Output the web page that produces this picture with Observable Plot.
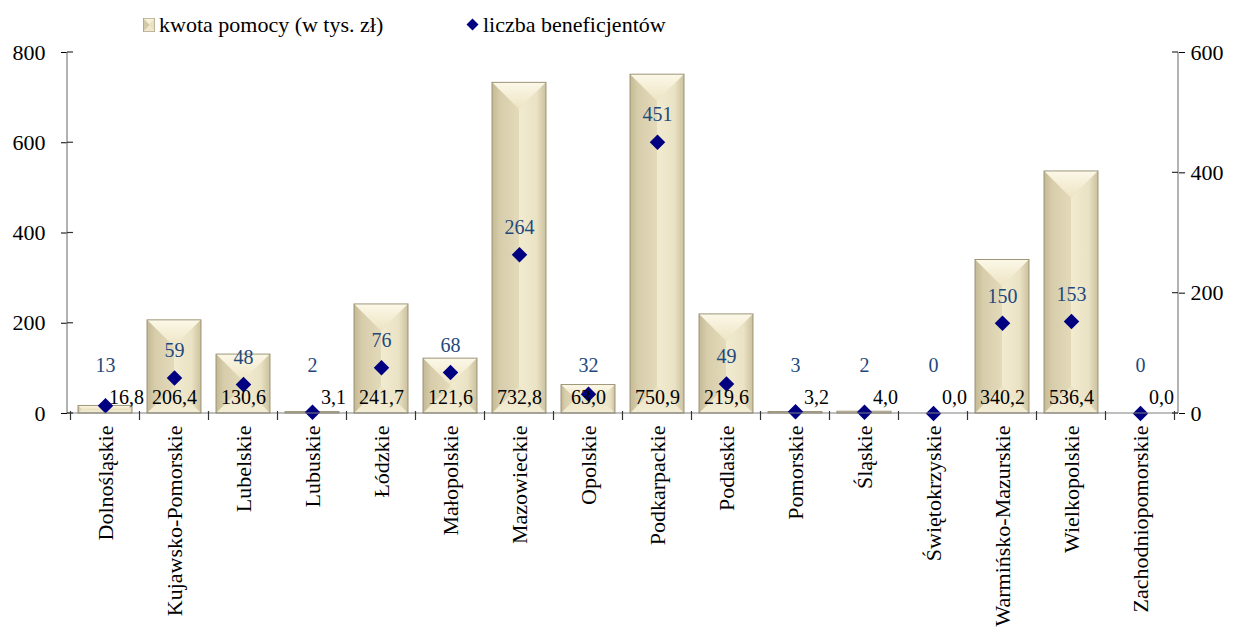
<!DOCTYPE html>
<html>
<head>
<meta charset="utf-8">
<script src="https://cdn.jsdelivr.net/npm/d3@7"></script>
<script src="https://cdn.jsdelivr.net/npm/@observablehq/plot@0.6"></script>
<style>
  html, body { margin: 0; padding: 0; background: #fff; }
  #legend { position: relative; height: 40px; width: 1239px; font-family: "Liberation Serif", serif; font-size: 22px; color: #000; }
  #legend .t { position: absolute; top: 14px; line-height: 22px; white-space: nowrap; }
  #legend svg { position: absolute; }
</style>
</head>
<body>
<div id="legend">
  <svg style="left:143px;top:18px" width="12" height="14" viewBox="0 0 12 14">
    <polygon points="0,0 12,0 6,6" fill="#F6F1DA"/>
    <polygon points="0,0 6,6 6,8 0,14" fill="#D3C9A7"/>
    <polygon points="12,0 6,6 6,8 12,14" fill="#E9E1C3"/>
    <polygon points="0,14 12,14 6,8" fill="#EEE7CC"/>
    <rect x="0.3" y="0.3" width="11.4" height="13.4" fill="none" stroke="#A39A7C" stroke-width="0.6"/>
  </svg>
  <span class="t" style="left:159px">kwota pomocy (w tys. zł)</span>
  <svg style="left:466px;top:18px" width="13" height="13" viewBox="0 0 13 13">
    <polygon points="6.5,0.5 12.5,6.5 6.5,12.5 0.5,6.5" fill="#000080"/>
  </svg>
  <span class="t" style="left:483px">liczba beneficjentów</span>
</div>
<div id="chart"></div>
<script>
const regions = ["Dolnośląskie","Kujawsko-Pomorskie","Lubelskie","Lubuskie","Łódzkie","Małopolskie","Mazowieckie","Opolskie","Podkarpackie","Podlaskie","Pomorskie","Śląskie","Świętokrzyskie","Warmińsko-Mazurskie","Wielkopolskie","Zachodniopomorskie"];
const kwota = [16.8, 206.4, 130.6, 3.1, 241.7, 121.6, 732.8, 63.0, 750.9, 219.6, 3.2, 4.0, 0.0, 340.2, 536.4, 0.0];
const beneficjenci = [13, 59, 48, 2, 76, 68, 264, 32, 451, 49, 3, 2, 0, 150, 153, 0];
const leftTicks = [0, 200, 400, 600, 800];
const rightTicks = [0, 200, 400, 600];

const FONT = "'Liberation Serif', serif";
const K = 800 / 600; // right axis -> left axis units
const data = regions.map((r, i) => ({region: r, kwota: kwota[i], benef: beneficjenci[i]}));
const fmt = v => v.toFixed(1).replace(".", ",");

function bevelBars(index, scales, values, dimensions) {
  const x = scales.x, y = scales.y;
  const g = d3.create("svg:g");
  const defs = g.append("defs");
  const grad = (id, x2, y2, stops) => {
    const lg = defs.append("linearGradient").attr("id", id)
      .attr("x1", 0).attr("y1", 0).attr("x2", x2).attr("y2", y2);
    stops.forEach(([o, c]) => lg.append("stop").attr("offset", o).attr("stop-color", c));
  };
  grad("bvLeft", 1, 0, [[0, "#C3B994"], [0.3, "#D7CDAB"], [1, "#E3DABA"]]);
  grad("bvRight", 1, 0, [[0, "#F1EBD0"], [0.65, "#EAE2C4"], [1, "#CBC19E"]]);
  grad("bvTop", 0, 1, [[0, "#FCF8E8"], [1, "#EDE4C3"]]);
  grad("bvBottom", 0, 1, [[0, "#EAE2C3"], [1, "#F3EDD4"]]);
  const bw = x.bandwidth();
  for (const d of data) {
    const x0 = x(d.region), x1 = x0 + bw;
    const yT = y(d.kwota), yB = y(0);
    const h = yB - yT;
    if (h <= 0.01) continue;
    const k = Math.min(bw / 2, h / 2);
    const poly = (pts, fill) => g.append("polygon").attr("points", pts.map(p => p.join(",")).join(" ")).attr("fill", fill);
    poly([[x0, yT], [x1, yT], [x1 - k, yT + k], [x0 + k, yT + k]], "url(#bvTop)");
    poly([[x0, yB], [x1, yB], [x1 - k, yB - k], [x0 + k, yB - k]], "url(#bvBottom)");
    poly([[x0, yT], [x0 + k, yT + k], [x0 + k, yB - k], [x0, yB]], "url(#bvLeft)");
    poly([[x1, yT], [x1 - k, yT + k], [x1 - k, yB - k], [x1, yB]], "url(#bvRight)");
    if (bw - 2 * k > 0.01 && h - 2 * k > 0.01) {
      g.append("rect").attr("x", x0 + k).attr("y", yT + k).attr("width", bw - 2 * k).attr("height", h - 2 * k).attr("fill", "#E8E0C1");
    }
    g.append("rect").attr("x", x0).attr("y", yT).attr("width", bw).attr("height", h)
      .attr("fill", "none").attr("stroke", "#958C6E").attr("stroke-width", 0.9);
  }
  return g.node();
}

function axisLines(index, scales, values, dimensions) {
  const x = scales.x, y = scales.y;
  const {width, marginLeft, marginRight} = dimensions;
  const xl = marginLeft, xr = width - marginRight;
  const y0 = y(0), yTop = y(800);
  const g = d3.create("svg:g").attr("stroke-width", 1.2);
  g.append("line").attr("x1", xl).attr("x2", xl).attr("y1", yTop).attr("y2", y0).attr("stroke", "#7F7F7F");
  g.append("line").attr("x1", xr).attr("x2", xr).attr("y1", yTop).attr("y2", y0).attr("stroke", "#7F7F7F");
  g.append("line").attr("x1", xl).attr("x2", xr).attr("y1", y0).attr("y2", y0).attr("stroke", "#7F7F7F");
  for (const t of leftTicks) {
    g.append("line").attr("x1", xl).attr("x2", xl + 6).attr("y1", y(t)).attr("y2", y(t)).attr("stroke", "#333");
  }
  for (const t of rightTicks) {
    g.append("line").attr("x1", xr - 6).attr("x2", xr).attr("y1", y(t * K)).attr("y2", y(t * K)).attr("stroke", "#333");
  }
  const step = x.step();
  const start = x(regions[0]) - (step - x.bandwidth()) / 2;
  for (let i = 0; i <= regions.length; i++) {
    const xx = start + i * step;
    g.append("line").attr("x1", xx).attr("x2", xx).attr("y1", y0 - 2).attr("y2", y0 + 7).attr("stroke", "#333");
  }
  return g.node();
}

const chart = Plot.plot({
  width: 1239,
  height: 601,
  marginTop: 12,
  marginBottom: 228,
  marginLeft: 67,
  marginRight: 61,
  style: {fontFamily: FONT, fontSize: "22px", background: "#fff", color: "#000", overflow: "visible"},
  x: {domain: regions, paddingInner: 0.22, paddingOuter: 0.11, label: null},
  y: {domain: [0, 800], label: null},
  marks: [
    Plot.barY(data, {x: "region", y: "kwota", fill: "#E6DDBD"}),
    bevelBars,
    Plot.dot(data, {x: "region", y: d => d.benef * K, symbol: "diamond2", r: 7, fill: "#000080", stroke: "none"}),
    Plot.text(data, {filter: d => d.kwota >= 20, x: "region", y: 0, dy: -16, text: d => fmt(d.kwota), fontSize: 20, fontFamily: FONT, fill: "#000"}),
    Plot.text(data, {filter: d => d.kwota < 20, x: "region", y: 0, dy: -16, dx: 21, text: d => fmt(d.kwota), fontSize: 20, fontFamily: FONT, fill: "#000"}),
    Plot.text(data, {x: "region", y: d => Math.max(d.benef + 45, 80) * K, text: d => String(d.benef), fontSize: 20, fontFamily: FONT, fill: "#1F497D"}),
    Plot.axisY({ticks: leftTicks, tickSize: 6, tickPadding: 16, label: null, fontSize: 22, fontFamily: FONT}),
    Plot.axisY({anchor: "right", ticks: rightTicks.map(v => v * K), tickFormat: d => String(Math.round(d / K)), tickSize: 6, tickPadding: 6, label: null, fontSize: 22, fontFamily: FONT}),
    Plot.axisX({tickRotate: -90, tickSize: 0, tickPadding: 12, label: null, fontSize: 22, fontFamily: FONT}),
    axisLines
  ]
});
document.getElementById("chart").appendChild(chart);
</script>
</body>
</html>
